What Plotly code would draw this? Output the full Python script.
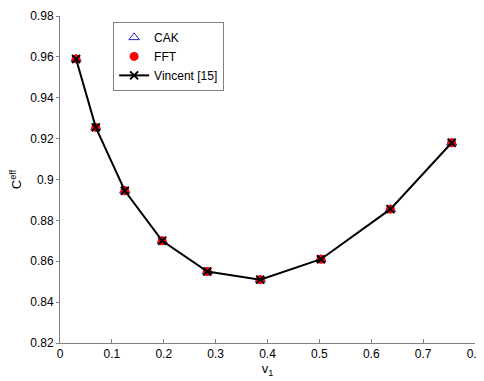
import plotly.graph_objects as go

v1 = [0.031, 0.069, 0.125, 0.197, 0.284, 0.386, 0.503, 0.637, 0.755]
cak = [0.959, 0.9255, 0.8945, 0.870, 0.855, 0.851, 0.861, 0.8855, 0.918]
fft = [0.959, 0.9255, 0.8945, 0.870, 0.855, 0.851, 0.861, 0.8855, 0.918]
vincent = [0.959, 0.9255, 0.8945, 0.870, 0.855, 0.851, 0.861, 0.8855, 0.918]

font = "Liberation Sans, Arial, sans-serif"

fig = go.Figure()
fig.add_trace(go.Scatter(x=v1, y=cak, mode="markers", name="CAK",
                         marker=dict(symbol="triangle-up-open", size=9, color="#2020c0",
                                     line=dict(width=1, color="#2020c0"))))
fig.add_trace(go.Scatter(x=v1, y=fft, mode="markers", name="FFT",
                         marker=dict(symbol="circle", size=9, color="#ff0000",
                                     line=dict(width=0))))
fig.add_trace(go.Scatter(x=v1, y=vincent, mode="lines+markers", name="Vincent [15]",
                         line=dict(color="black", width=2),
                         marker=dict(symbol="x-thin-open", size=8, color="black",
                                     line=dict(width=2, color="black"))))

axis_common = dict(showgrid=False, zeroline=False, showline=True, linecolor="#808080",
                   linewidth=1, tickcolor="#808080", mirror=False, automargin=False,
                   ticklabeloverflow="allow",
                   tickfont=dict(family=font, size=12, color="black"))

fig.update_layout(
    width=484, height=381,
    margin=dict(l=52, r=17, t=8, b=46),
    paper_bgcolor="white", plot_bgcolor="white",
    font=dict(family=font, size=12, color="black"),
    xaxis=dict(range=[0, 0.8], tickmode="array",
               tickvals=[0, 0.1, 0.2, 0.3, 0.4, 0.5, 0.6, 0.7, 0.8],
               ticktext=["0", "0.1", "0.2", "0.3", "0.4", "0.5", "0.6", "0.7", "0.8"],
               ticks="inside", ticklen=4,
               title=dict(text="v<sub>1</sub>", font=dict(family=font, size=13), standoff=2),
               **axis_common),
    yaxis=dict(range=[0.82, 0.98], tickmode="array",
               tickvals=[0.82, 0.84, 0.86, 0.88, 0.9, 0.92, 0.94, 0.96, 0.98],
               ticktext=["0.82", "0.84", "0.86", "0.88", "0.9", "0.92", "0.94", "0.96", "0.98"],
               ticks="outside", ticklen=3,
               title=dict(text="C<sup>eff</sup>", font=dict(family=font, size=13), standoff=6),
               **axis_common),
    legend=dict(x=0.128, y=0.982, xanchor="left", yanchor="top",
                bgcolor="white", bordercolor="#808080", borderwidth=1,
                font=dict(family=font, size=12), tracegroupgap=0, itemwidth=30),
    showlegend=True,
)

fig.write_html("out.html")
